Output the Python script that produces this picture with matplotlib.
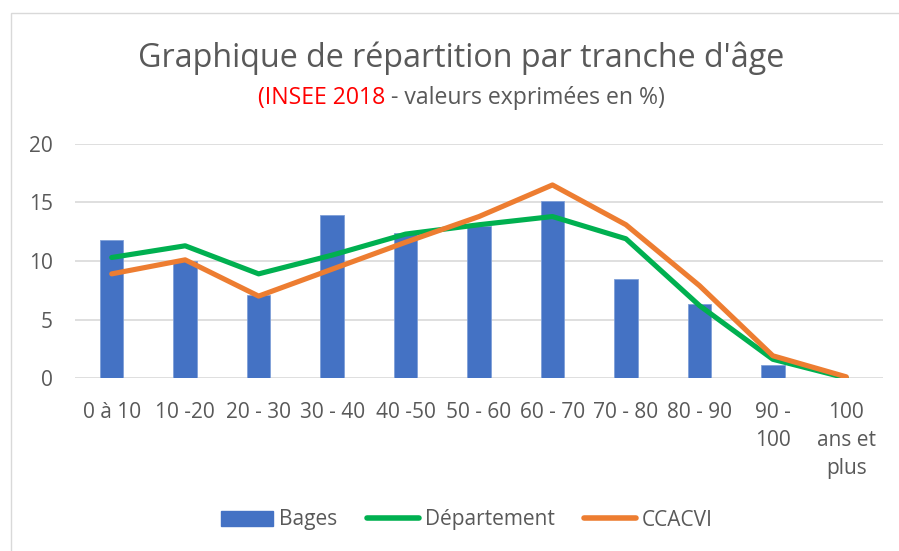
import matplotlib
matplotlib.use("Agg")
import matplotlib.pyplot as plt
import matplotlib.patches as mpatches
from matplotlib.lines import Line2D
import numpy as np

categories = ["0 à 10", "10 -20", "20 - 30", "30 - 40", "40 -50", "50 - 60",
              "60 - 70", "70 - 80", "80 - 90", "90 -\n100", "100\nans et\nplus"]
bages = [11.8, 10.0, 7.1, 13.9, 12.4, 13.0, 15.1, 8.5, 6.3, 1.1, 0.0]
departement = [10.3, 11.3, 8.9, 10.5, 12.3, 13.1, 13.8, 11.9, 6.2, 1.6, 0.0]
ccacvi = [8.9, 10.1, 7.0, 9.3, 11.6, 13.8, 16.5, 13.1, 7.9, 1.9, 0.1]
yticks = [0, 5, 10, 15, 20]

BLUE = "#4472C4"
GREEN = "#00B050"
ORANGE = "#ED7D31"
GRID = "#D9D9D9"
TXT = "#595959"
FONT = "Open Sans"

plt.rcParams["font.family"] = [FONT, "DejaVu Sans"]

W, H = 899, 551
fig = plt.figure(figsize=(W / 100, H / 100), dpi=100)
fig.patch.set_facecolor("white")

# chart area border
border = mpatches.Rectangle((11 / W, -0.1), 1.2, (1 - 13 / H) + 0.1,
                            transform=fig.transFigure, fill=False,
                            edgecolor=GRID, linewidth=1.0, clip_on=False)
fig.patches.append(border)

ax = fig.add_axes([75 / W, 1 - 378 / H, 808 / W, 234 / H])
x = np.arange(len(categories))
ax.bar(x, bages, width=0.32, color=BLUE, edgecolor="#7F9FD8", linewidth=0.6,
       zorder=2, label="Bages")
ax.plot(x, departement, color=GREEN, linewidth=3.7, solid_capstyle="round",
        solid_joinstyle="round", zorder=3, label="Département")
ax.plot(x, ccacvi, color=ORANGE, linewidth=3.7, solid_capstyle="round",
        solid_joinstyle="round", zorder=4, label="CCACVI")

ax.set_xlim(-0.5, len(categories) - 0.5)
ax.set_ylim(0, 20)
ax.set_yticks(yticks)
ax.set_xticks(x)
ax.set_xticklabels(categories, linespacing=1.45)
ax.tick_params(axis="both", length=0, labelsize=15, colors=TXT)
ax.tick_params(axis="y", pad=16)
ax.tick_params(axis="x", pad=17)
for s in ax.spines.values():
    s.set_visible(False)
ax.grid(axis="y", color=GRID, linewidth=1.2, zorder=0)
ax.set_axisbelow(True)

# title
fig.text(461 / W, 1 - 58 / H, "Graphique de répartition par tranche d'âge",
         ha="center", va="center", fontsize=23.2, color=TXT)

# subtitle with two colours
fig.canvas.draw()
r = fig.canvas.get_renderer()
t1 = fig.text(0, 1 - 98 / H, "(INSEE 2018", ha="left", va="center",
              fontsize=16.6, color="#FF0000")
t2 = fig.text(0, 1 - 98 / H, " - valeurs exprimées en %)", ha="left",
              va="center", fontsize=16.6, color=TXT)
w1 = t1.get_window_extent(r).width
w2 = t2.get_window_extent(r).width
x0 = 461.5 - (w1 + w2) / 2
t1.set_x(x0 / W)
t2.set_x((x0 + w1) / W)

handles = [mpatches.Patch(color=BLUE),
           Line2D([], [], color=GREEN, linewidth=4.0, solid_capstyle="round"),
           Line2D([], [], color=ORANGE, linewidth=4.0, solid_capstyle="round")]
leg = fig.legend(handles, ["Bages", "Département", "CCACVI"], loc="center",
                 bbox_to_anchor=(467 / W, 1 - 520 / H), ncol=3, frameon=False,
                 fontsize=15, handlelength=2.5, handletextpad=0.3,
                 columnspacing=1.4, labelcolor=TXT)

fig.savefig("out.png", dpi=100)
